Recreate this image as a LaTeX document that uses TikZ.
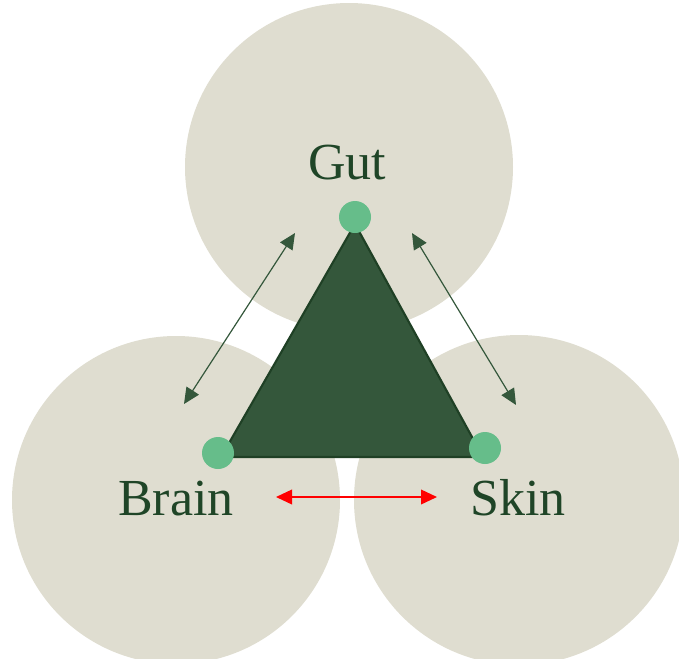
\documentclass[tikz,border=0pt]{standalone}
\usepackage{fontspec}
\setmainfont{Liberation Serif}
\usetikzlibrary{arrows.meta}
\definecolor{zone}{HTML}{DFDDD0}
\definecolor{deep}{HTML}{34573B}
\definecolor{rim}{HTML}{1F4025}
\definecolor{mint}{HTML}{66BD8A}
\definecolor{ink}{HTML}{1F4527}

\tikzset{
  zone/.style={fill=zone, draw=none},
  dot/.style={circle, fill=mint, inner sep=0pt, minimum size=24pt},
  organ/.style={text=ink, font=\fontsize{39}{39}\selectfont, inner sep=0pt},
  link/.style={draw=deep, line width=0.9pt, {Triangle[length=12pt,width=11pt]}-{Triangle[length=12pt,width=11pt]}},
}

\begin{document}
\begin{tikzpicture}[x=0.75pt,y=-0.75pt]
  \useasboundingbox (0,0) rectangle (679,658);
  \begin{scope}
    \clip (0,0) rectangle (679,658);
    \fill[zone] (349,167) circle (164);
    \fill[zone] (176,500) circle (164);
    \fill[zone] (519,500) circle (165);
  \end{scope}

  % triangle
  \coordinate (top) at (355,224);
  \coordinate (left) at (221,457);
  \coordinate (right) at (483,457);
  \filldraw[fill=deep, draw=rim, line width=1.6pt, line join=round] (top) -- (left) -- (right) -- cycle;

  \node[dot] (dg) at (355,217) {};
  \node[dot] (db) at (218,453) {};
  \node[dot] (ds) at (485,448) {};

  \node[organ] (gut) at (347,163) {Gut};
  \node[organ, anchor=base] (brain) at (176,515) {Brain};
  \node[organ, anchor=base] (skin) at (518,515) {Skin};

  % arrows
  \coordinate (a1) at (295,233);
  \coordinate (a2) at (184,404);
  \coordinate (b1) at (412,233);
  \coordinate (b2) at (516,405);
  \coordinate (c1) at (276,497);
  \coordinate (c2) at (437,497);
  \draw[link] (a1) -- (a2);
  \draw[link] (b1) -- (b2);
  \draw[link, draw=red, line width=1.2pt] (c1) -- (c2);
\end{tikzpicture}
\end{document}
